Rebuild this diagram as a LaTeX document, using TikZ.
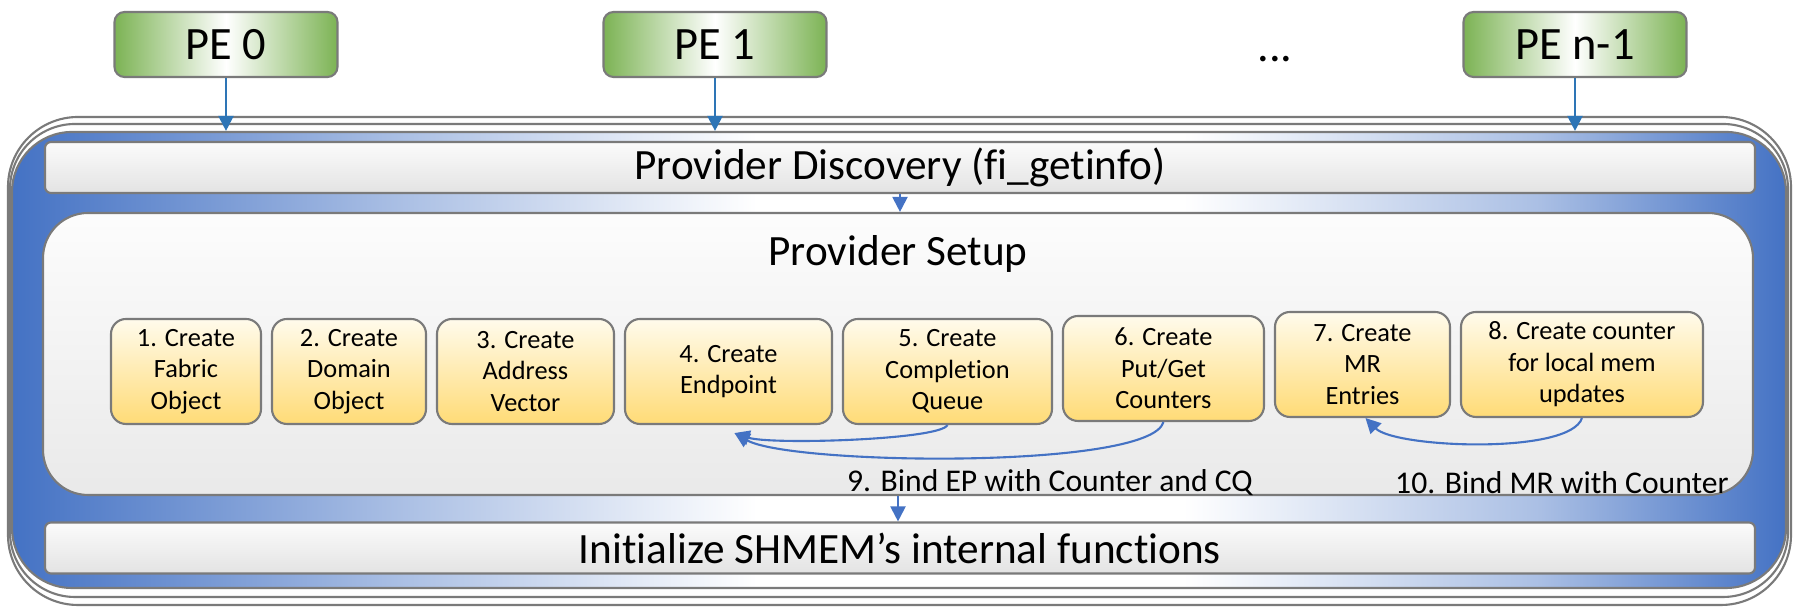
\documentclass[tikz,border=0pt]{standalone}
\usepackage{fontspec}
\setmainfont{Carlito}[Ligatures=NoCommon]
\usetikzlibrary{arrows.meta}
\usetikzlibrary{positioning}

\definecolor{frameblue}{RGB}{68,114,196}
\definecolor{arrowblue}{RGB}{46,117,182}
\definecolor{peGreen}{RGB}{124,179,84}
\definecolor{edgegray}{RGB}{122,122,122}
\definecolor{boxTop}{RGB}{255,251,236}
\definecolor{boxBottom}{RGB}{255,219,118}
\pgfdeclarehorizontalshading{framefade}{100bp}{color(0bp)=(frameblue); color(25bp)=(frameblue); color(36bp)=(frameblue!45); color(46bp)=(white); color(58bp)=(white); color(68bp)=(frameblue!45); color(75bp)=(frameblue); color(100bp)=(frameblue)}

\begin{document}
\begin{tikzpicture}[x=0.1mm, y=-0.1mm, >={Triangle[length=1.5mm,width=1.5mm]},
				pemode/.style={rectangle,rounded corners=1mm,draw=edgegray,line width=0.6pt,left color=peGreen,right color=peGreen,middle color=white,minimum width=22.3mm,minimum height=6.5mm,inner sep=0pt,font=\fontsize{13.2}{15}\selectfont},
				barmode/.style={rectangle,rounded corners=0.6mm,draw=edgegray,line width=0.6pt,top color=gray!3,bottom color=gray!22,minimum width=171mm,minimum height=5.1mm,inner sep=0pt,font=\fontsize{12.3}{14}\selectfont},
				stepbox/.style={rectangle,rounded corners=1.5mm,draw=edgegray,line width=0.6pt,top color=boxTop,bottom color=boxBottom,minimum height=10.5mm,inner sep=0pt,align=center,font=\fontsize{7.5}{9}\selectfont},
				stackline/.style={draw=edgegray,line width=0.6pt,fill=white,rounded corners=7mm},
				pearrow/.style={->,draw=arrowblue,line width=0.6pt},
				bindarrow/.style={->,draw=frameblue,line width=0.6pt},
				bindtext/.style={font=\fontsize{9}{11}\selectfont,inner sep=0pt}]
				
				\useasboundingbox (0,0) rectangle (1793,607);
				
				% stacked frame
				\draw [stackline] (8,117) rectangle (1791,605);
				\draw [stackline,rounded corners=6.5mm] (10,124) rectangle (1788,597);
				\node (frame) [rectangle,rounded corners=6mm,draw=edgegray,line width=0.6pt,shading=framefade,minimum width=177.4mm,minimum height=45.6mm,inner sep=0pt] at (899,360) {};
				
				% PEs
				\node (pe0) [pemode] at (226,44.5) {PE 0};
				\node (pe1) [pemode] at (715,44.5) {PE 1};
				\node (dots) [font=\fontsize{13.2}{15}\selectfont,anchor=base] at (1275,62) {...};
				\node (pen) [pemode] at (1575,44.5) {PE n-1};
				
				% layers
				\node (disc) [barmode] at (900,167.5) {Provider Discovery (fi\_getinfo)};
				\node (setup) [barmode,rounded corners=4.5mm,top color=gray!2,bottom color=gray!17,minimum height=28.2mm] at (898,354) {};
				\node (setuplbl) [font=\fontsize{12.3}{14}\selectfont] at (898,254) {Provider Setup};
				\node (init) [barmode] at (900,548) {Initialize SHMEM’s internal functions};
				
				% setup steps
				\node (s1) [stepbox,minimum width=15mm] at (186,371.5) {1. Create\\Fabric\\Object};
				\node (s2) [stepbox,minimum width=15.4mm,right of=s1,node distance=16.3mm] {2. Create\\Domain\\Object};
				\node (s3) [stepbox,minimum width=17.7mm,right of=s2,node distance=17.65mm] {3. Create\\Address\\Vector};
				\node (s4) [stepbox,minimum width=20.7mm,right of=s3,node distance=20.3mm] {4. Create\\Endpoint};
				\node (s5) [stepbox,minimum width=20.9mm,right of=s4,node distance=21.9mm] {5. Create\\Completion\\Queue};
				\node (s6) [stepbox,minimum width=20.1mm,right of=s5,node distance=21.6mm,yshift=0.3mm] {6. Create\\Put/Get\\Counters};
				\node (s7) [stepbox,minimum width=17.5mm,right of=s6,node distance=19.9mm,yshift=0.4mm] {7. Create\\MR\\Entries};
				\node (s8) [stepbox,minimum width=24.2mm,right of=s7,node distance=21.95mm] {8. Create counter\\for local mem\\updates};
				
				\node (bind9) [bindtext] at (1050,483) {9. Bind EP with Counter and CQ};
				\node (bind10) [bindtext] at (1562,483) {10. Bind MR with Counter};
				
				\draw [pearrow] (pe0) -- (pe0 |- frame.north);
				\draw [pearrow] (pe1) -- (pe1 |- frame.north);
				\draw [pearrow] (pen) -- (pen |- frame.north);
				\draw [bindarrow] (disc.south) -- (disc.south |- setup.north);
				\draw [bindarrow] (setup.south) -- (setup.south |- init.north);
				\draw [bindarrow] (s5.south) .. controls (940,440) and (770,445) .. ([xshift=0.6mm,yshift=-0.8mm]s4.south);
				\draw [bindarrow] (s6.south) .. controls (1150,470) and (790,465) .. ([xshift=0.6mm,yshift=-0.8mm]s4.south);
				\draw [bindarrow] (s8.south) .. controls (1570,455) and (1395,448) .. ([xshift=0.3mm]s7.south);
			\end{tikzpicture}
\end{document}
